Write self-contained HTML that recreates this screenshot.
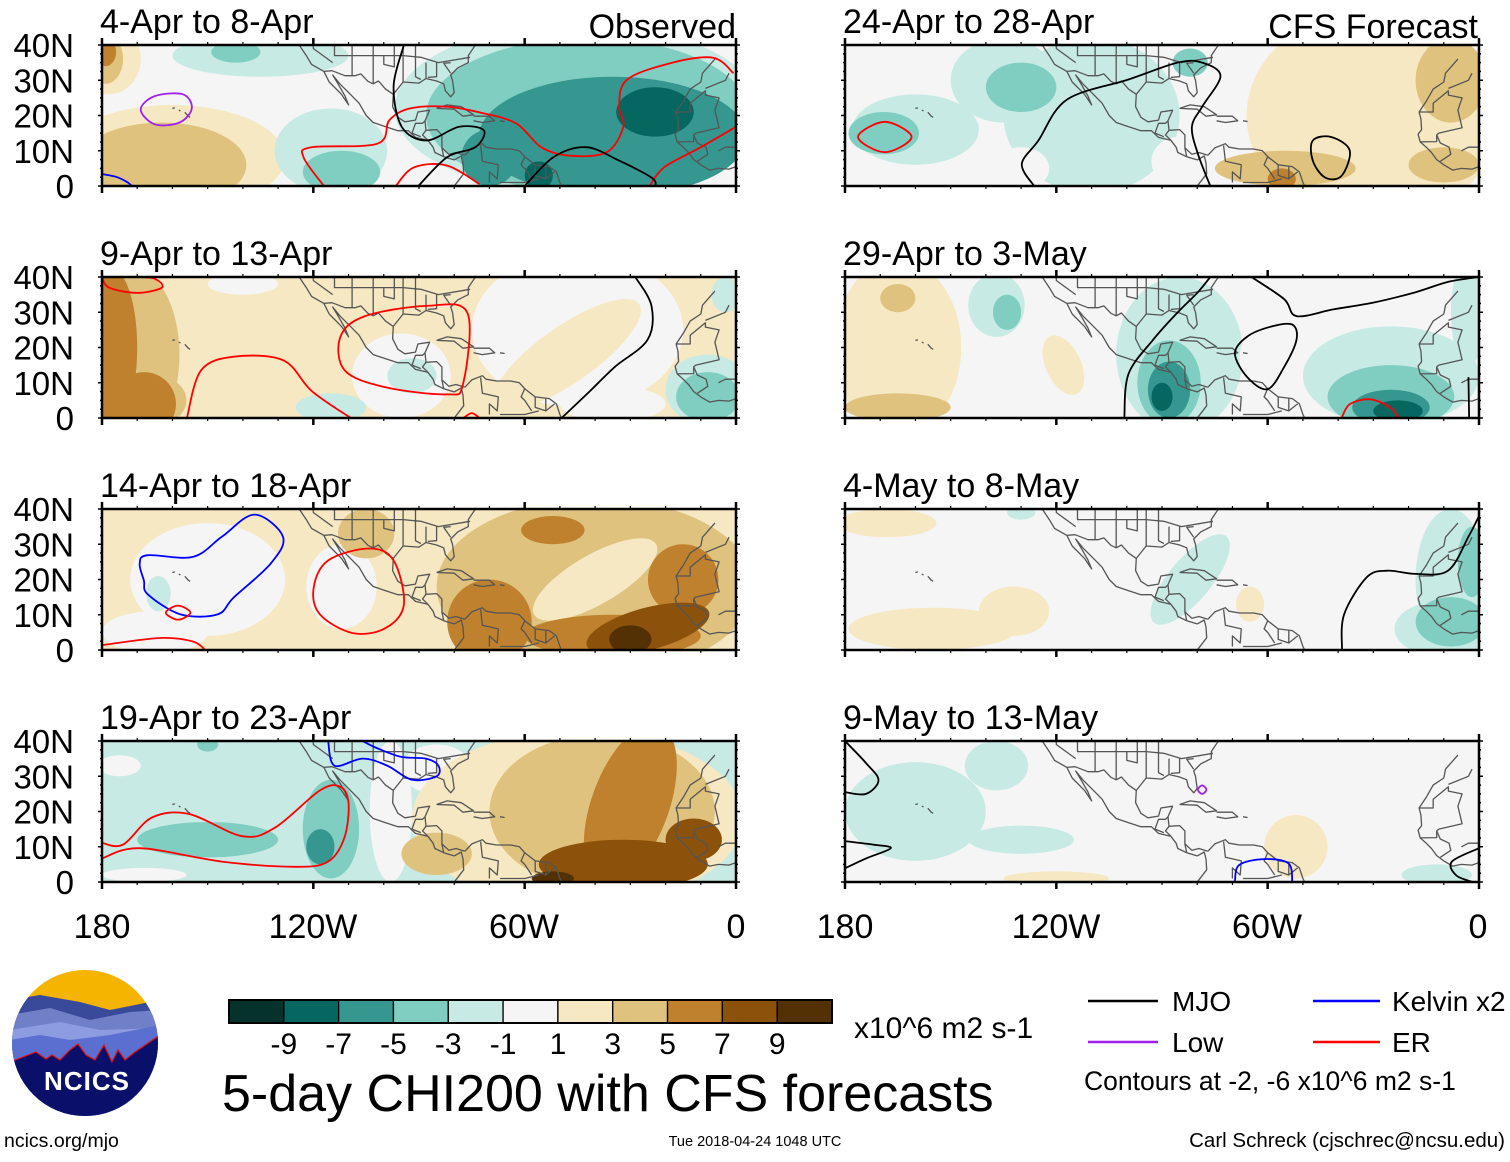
<!DOCTYPE html>
<html><head><meta charset="utf-8"><title>5-day CHI200 with CFS forecasts</title>
<style>
body{margin:0;background:#fff;width:1510px;height:1157px;overflow:hidden;font-family:"Liberation Sans",Arial,sans-serif;}
svg text{font-family:"Liberation Sans",Arial,sans-serif;}
</style></head>
<body>
<svg id="chart" width="1510" height="1157" viewBox="0 0 1510 1157" xmlns="http://www.w3.org/2000/svg">
<defs id="defs"></defs>
<g id="panels"></g>
<g font-size="34" text-anchor="middle">
<text x="102" y="938">180</text><text x="313" y="938">120W</text><text x="524" y="938">60W</text><text x="736" y="938">0</text>
</g>
<g font-size="34" text-anchor="middle">
<text x="845" y="938">180</text><text x="1056" y="938">120W</text><text x="1267" y="938">60W</text><text x="1478" y="938">0</text>
</g>
<text x="736" y="38" font-size="34" text-anchor="end">Observed</text>
<text x="1478" y="38" font-size="34" text-anchor="end">CFS Forecast</text>
<g id="colorbar"></g>
<text x="854" y="1038" font-size="30">x10^6 m2 s-1</text>
<text x="222" y="1111" font-size="52">5-day CHI200 with CFS forecasts</text>
<text x="755" y="1146" font-size="14.5" text-anchor="middle">Tue 2018-04-24 1048 UTC</text>
<text x="4" y="1147" font-size="19.5">ncics.org/mjo</text>
<text x="1505" y="1147" font-size="20.5" text-anchor="end">Carl Schreck (cjschrec@ncsu.edu)</text>
<g font-size="28">
<g><line x1="1088" y1="1001" x2="1158" y2="1001" stroke="#000" stroke-width="2.5"/><text x="1172" y="1011">MJO</text></g>
<g><line x1="1313" y1="1001" x2="1380" y2="1001" stroke="#0000ff" stroke-width="2.5"/><text x="1392" y="1011">Kelvin x2</text></g>
<g><line x1="1088" y1="1042" x2="1158" y2="1042" stroke="#a020f0" stroke-width="2.5"/><text x="1172" y="1052">Low</text></g>
<g><line x1="1313" y1="1042" x2="1380" y2="1042" stroke="#ff0000" stroke-width="2.5"/><text x="1392" y="1052">ER</text></g>
<text x="1084" y="1090" font-size="26.5">Contours at -2, -6 x10^6 m2 s-1</text>
</g>
<g>
<clipPath id="logoclip"><circle cx="85" cy="1043" r="73"/></clipPath>
<g clip-path="url(#logoclip)">
<rect x="10" y="968" width="150" height="150" fill="#f4b400"/>
<path d="M10 1000 L40 995 L80 1002 L110 1010 L160 1000 L160 1120 L10 1120Z" fill="#3a4a9a"/>
<path d="M10 1015 L50 1008 L90 1020 L130 1012 L160 1010 L160 1120 L10 1120Z" fill="#6f7fc8"/>
<path d="M10 1030 L60 1022 L100 1030 L160 1028 L160 1120 L10 1120Z" fill="#8d9be0"/>
<path d="M10 1040 L40 1035 L70 1040 L110 1035 L160 1025 L160 1120 L10 1120Z" fill="#5a6fd0"/>
<path d="M10 1062 L36 1052 L46 1059 L52 1055 L60 1060 L70 1050 L78 1044 L86 1055 L95 1060 L104 1045 L112 1062 L118 1050 L125 1060 L135 1052 L160 1035 L160 1120 L10 1120Z" fill="#0a0f6a" stroke="#e01010" stroke-width="1.2"/>
</g>
<text x="87" y="1090" font-size="26" font-weight="bold" fill="#fff" text-anchor="middle" letter-spacing="1">NCICS</text>
</g>
</svg>
<script>
const levelColors = ["#05332c","#05675f","#35978f","#80cdc1","#c7eae5","#f5f5f5","#f6e8c3","#dfc27d","#bf812d","#8c510a","#543005"];
const levelTicks = ["-9","-7","-5","-3","-1","1","3","5","7","9"];

const panelTitles = ["4-Apr to 8-Apr","9-Apr to 13-Apr","14-Apr to 18-Apr","19-Apr to 23-Apr","24-Apr to 28-Apr","29-Apr to 3-May","4-May to 8-May","9-May to 13-May"];
const panelBg = [5,6,6,4,5,5,5,5];
const latTicks = ["0","10N","20N","30N","40N"];

// blobs: [lon, lat, rxDeg, ryDeg, level, rotation]
const blobs0 = [[-160,8,32,15,6],[-150,8,22,12,6],[-163,6,24,12,7],[-178,36,9,10,6],[-179,36,5,7,7],[-179,38,3,4,8],
 [-135,37,25,6,4],[-142,38,7,3,3],[-115,10,16,12,4],[-112,4,11,6,3],
 [-45,22,52,24,4],[-42,20,46,22,3],[-35,14,38,17,2],[-70,8,8,8,2],[-23,21,11,7,1],[-56,3,4,4,1]];
const blobs1 = [[-172,18,14,25,7],[-168,5,12,8,7],[-177,20,7,22,8],[-168,4,9,9,8],[-140,38,10,3,5],
 [-45,25,30,22,5],[-48,18,25,8,6,-35],[-95,12,14,12,5],[-92,12,7,5,4],[-115,3,10,4,4],[-35,4,15,5,5],
 [-8,8,12,10,4],[-8,6,9,7,3],[-3,35,4,5,4]];
const blobs2 = [[-150,20,22,16,5],[-165,5,15,6,5],[-112,18,10,12,5],[-164,16,3.5,5,4],
 [-105,33,8,7,7],[-40,18,45,25,7],[-40,20,20,7,6,-30],[-70,8,12,12,8],[-52,34,9,4,8],[-15,20,10,10,8],[-35,4,25,6,8],
 [-25,6,18,6,9,-15],[-30,3,6,4,10]];
const blobs3 = [[-175,33,6,3,5],[-168,2,12,2,5],[-150,12,20,5,3],[-115,15,8,14,3],[-150,39,3,2,3],[-118,10,4,5,2],
 [-98,20,6,20,5],[-85,32,10,7,5],[-45,18,47,25,6],[-38,20,32,22,7],[-85,8,10,6,7],[-30,22,11,24,8,20],
 [-32,5,24,7,9],[-12,12,8,6,9],[-52,1,6,2,10],[-29,30,3,2,8]];
const blobs4 = [[-110,20,25,22,4],[-160,16,18,10,4],[-135,30,15,12,4],[-130,28,10,7,3],[-169,15,10,6,3],[-82,35,5,4,3],
 [-130,5,8,6,5],[-85,7,8,7,5],[-30,20,36,30,6],[-8,30,10,12,7],[-55,5,20,5,7],[-10,6,10,5,7],[-56,2,4,3,8]];
const blobs5 = [[-165,20,18,25,6],[-165,34,5,4,7],[-165,3,15,4,7],[-118,15,5,9,6,-25],[-137,32,8,9,4],[-134,30,4,5,3],
 [-85,18,18,22,4],[-88,10,9,12,3],[-88,8,6,8,2],[-90,6,3,4,1],[-25,12,25,14,4],[-3,30,5,15,4],[-25,6,18,9,3],[-25,3,11,5,2],[-23,2,7,3,1],
 [-60,17,8,9,5]];
const blobs6 = [[-168,36,14,4,6],[-155,6,24,6,6],[-132,11,10,7,6],[-65,13,4,5,6],[-82,20,16,6,4,-50],[-130,39,4,2,4],
 [-8,20,10,20,4],[-10,6,14,8,4],[-8,8,10,7,3],[-2,25,4,10,3]];
const blobs7 = [[-160,20,20,14,4],[-137,33,9,7,4],[-130,12,15,4,4],[-120,1,15,2,6],[-52,10,9,9,6],[-12,2,10,3,4]];
const panelBlobs = [blobs0,blobs1,blobs2,blobs3,blobs4,blobs5,blobs6,blobs7];

const contourColors = {mjo:"#000000",kelvin:"#0000ff",low:"#a020f0",er:"#ff0000"};
const contourList = [
 [0,"low",1,[[-169,21.7],[-165,25.5],[-157,26],[-154.5,22],[-158,18],[-165,17.5]]],
 [0,"kelvin",0,[[-180,3.4],[-176,2.6],[-173,1.2],[-171.5,0]]],
 [0,"er",0,[[-117,0],[-122.8,8.2],[-120.5,11],[-101.8,12],[-98.4,18.7],[-92.5,22],[-82,22.5],[-71.6,20.6],[-62.3,17.7],[-55.3,11],[-47.2,8.6],[-36.7,9.6],[-32,16.8],[-33.2,22.5],[-30.9,30.2],[-18,35],[-6.5,36.4],[-0.7,32]]],
 [0,"er",0,[[-96.6,0],[-91.4,5.3],[-82,5.8],[-72.8,0.5]]],
 [0,"er",0,[[-24.5,0],[-20.4,5.3],[-10,11],[0,16.8]]],
 [0,"mjo",0,[[-94.3,40],[-97.2,28.3],[-94.9,16.8],[-87.9,12.9],[-78.6,16.8],[-71.6,15.8],[-74,11],[-82,8.2],[-90.2,0]]],
 [0,"mjo",0,[[-60,0],[-51.8,8.2],[-42.5,11],[-33.2,7.2],[-24,2.4],[-22.8,0]]],
 [1,"er",0,[[-180,40],[-178,37],[-170,35.5],[-163,37],[-165,39.5],[-170,40]]],
 [1,"er",1,[[-112.3,23.1],[-105.3,28.9],[-87.9,31.8],[-76.3,29.9],[-77.5,9.6],[-82,6.7],[-99.5,8.7],[-111.1,13.5]]],
 [1,"er",0,[[-155.9,0],[-151.9,13.5],[-142.6,17.4],[-128.6,16.4],[-120.5,7.7],[-109.4,0]]],
 [1,"er",0,[[-77.4,0],[-75,1.4],[-72.8,0]]],
 [1,"mjo",0,[[-28.6,40],[-24,31.8],[-25.1,22.2],[-34.4,14.5],[-41.4,7.7],[-49.5,0]]],
 [2,"kelvin",1,[[-169.3,24.5],[-167,26.9],[-154.2,26.4],[-146,32.1],[-136.7,38.4],[-128.6,32.1],[-132.1,24.5],[-142.6,14.9],[-147.2,10.1],[-157.7,10.1],[-167,15.8],[-168.1,19.7]]],
 [2,"er",1,[[-161.9,10.6],[-158.4,12.6],[-154.9,10.6],[-158.4,8.6]]],
 [2,"er",1,[[-119.9,17.7],[-115.8,25.4],[-104.2,28.8],[-97.2,25.4],[-94.3,12.9],[-99.5,6.2],[-108.8,4.8],[-118.1,10.1]]],
 [2,"er",0,[[-180,1.4],[-163.5,3.4],[-154.2,2.4],[-150.7,0]]],
 [3,"er",0,[[-180,11.1],[-174,10.6],[-165.8,18.3],[-155.3,19.3],[-140.2,13],[-130.9,15.4],[-118.1,26],[-112.3,27],[-110,22.2],[-111.2,12.5],[-115.8,5.8],[-125.1,4.3],[-146,5.8],[-169.3,9.6],[-180,6.7]]],
 [3,"kelvin",0,[[-115.8,40],[-114,33],[-106,35],[-99,33],[-92,29],[-85,30],[-84.5,33],[-88,35],[-95,35.5],[-102,38],[-106,40]]],
 [4,"er",1,[[-176.3,13.9],[-168.7,18.2],[-161.1,13.9],[-168.7,9.6]]],
 [4,"mjo",0,[[-126.3,0],[-129.8,6.2],[-125.1,12.9],[-117,24.5],[-99.5,30.2],[-85.6,35],[-78.6,35],[-73.4,31.2],[-78.6,22.5],[-81.5,16.8],[-79.8,9.1],[-76.3,0]]],
 [4,"mjo",1,[[-47.2,12.9],[-42,13.9],[-36.7,10.1],[-39,2.9],[-43.7,2.4],[-47.2,7.2]]],
 [5,"mjo",0,[[-100.7,0],[-99.5,12.5],[-92.5,22.2],[-85.6,29.9],[-79.8,35.7],[-76.3,40]]],
 [5,"mjo",0,[[-64.6,40],[-55.3,33.7],[-51.8,28.9],[-41.4,30.8],[-29.7,32.8],[-18,35.7],[-8.8,38.6],[0,40]]],
 [5,"mjo",1,[[-53,26.5],[-51.8,22.2],[-55.3,14.5],[-60,8.2],[-65.8,11.6],[-69.3,18.3],[-65.8,23.1],[-58.8,26]]],
 [5,"mjo",0,[[-3,11.6],[-2.8,0]]],
 [5,"er",0,[[-39,0],[-36.7,3.9],[-30.9,5.3],[-25.1,2.9],[-22.8,0]]],
 [6,"mjo",0,[[-38.9,0],[-38.3,10.1],[-31.9,20.6],[-26.1,22.5],[-18,21.6],[-8.8,22.5],[-3,32.1],[0,38]]],
 [7,"mjo",0,[[-180,40],[-174,33.7],[-170.5,28.9],[-174,25],[-180,25.5]]],
 [7,"mjo",0,[[-180,3.9],[-174,6.7],[-167,9.6],[-172,10.6],[-180,11.6]]],
 [7,"low",1,[[-79.8,26.2],[-78.6,27.4],[-77.4,26.2],[-78.6,25]]],
 [7,"kelvin",0,[[-69.3,0],[-68.1,4.8],[-61.1,6.5],[-54.1,5.3],[-53,0]]],
 [7,"mjo",0,[[0,9.6],[-7.7,5.8],[-6.5,1.9],[-1.9,0]]]
];

const coastLines = [
 [[-124,40],[-122,37],[-120.5,34.5],[-117,32.5],[-115.5,29.5],[-112,26],[-110,23],[-111,25.5],[-113,29],[-114.5,31.5],[-112.5,29],[-110,26.5],[-107,23.5],[-105,20],[-103,18],[-100,17],[-96,15.7],[-93,15.7],[-91,13.8],[-87.5,13],[-86,11],[-85.5,9.5],[-83,8.3],[-80,7.4],[-78,8.5],[-77.5,6.5],[-77.3,3.5],[-78.8,1.5],[-80,0]],
 [[-77,8.7],[-79.5,9.5],[-81.5,9],[-83.5,10.8],[-83.5,14.5],[-85,16],[-88,15.8],[-88.3,18.5],[-87,21.5],[-90.3,21],[-91,18.7],[-94,18.2],[-96,19.5],[-97.5,22.5],[-97.3,26],[-94.5,29.5],[-90,29.2],[-88,30.5],[-85,29.8],[-83,29],[-82.5,27],[-81,25.3],[-80,26.5],[-80.5,30],[-81,31.5],[-79,33.5],[-76,35],[-76,37],[-75,38.5],[-74,40]],
 [[-77,8.7],[-75,10.8],[-72,12],[-71,11],[-68,10.5],[-64,10.5],[-61.5,10],[-60,8.3],[-57,6],[-53,5.5],[-51,4],[-50,1],[-49.5,0]],
 [[-85,22],[-82,23],[-78,22.5],[-74.5,20.2],[-77.5,19.8],[-80,21.8],[-85,22]],
 [[-74.5,19.8],[-70,19.8],[-68.5,18.5],[-72,18],[-74.5,18.5]],
 [[-67,18.5],[-65.7,18.3]],
 [[-6,36],[-9.5,32],[-10,29.5],[-13,27.5],[-15,24],[-17,21],[-16.5,19],[-16.3,16],[-17.3,14.7],[-16.7,12.5],[-15,11],[-13.5,9.5],[-12,7.5],[-10,6],[-7.5,4.5],[-5,5],[-2,4.8],[0,5.5]],
 [[-160,22],[-159.3,22.2]],[[-158.2,21.5],[-157.7,21.3]],[[-156.5,20.9],[-155.5,19.8],[-155,19.5]]
];
const borderLines = [
 [[-117,32.5],[-114.7,32.7],[-111,31.3],[-108.2,31.3],[-106.5,31.8],[-104.5,29.7],[-103,29],[-101.5,29.8],[-99.5,27.5],[-97.3,26]],
 [[-120,42],[-120,39],[-114.5,35]],[[-114,42],[-114,37],[-109,37],[-103,37],[-94.5,37],[-89.5,36.5],[-84.5,35],[-75.5,36.5]],
 [[-109,42],[-109,31.3]],[[-103,42],[-103,29]],[[-94.5,40],[-94.5,29.5]],[[-91,40],[-91,31],[-89.5,30.2]],[[-88,35],[-88,30.5]],[[-85,35],[-85,31],[-87.5,30.8]],
 [[-97,40],[-97,33.8],[-100,34.5],[-100,37]],[[-81,35],[-83,34.8],[-81,32]],
 [[-17,21],[-13,21],[-13,23.5],[-8.7,27],[-8.7,25.8],[-4.8,25],[-6,21.5],[-4.8,16.5],[-11.4,15],[-12,14.5],[-12,12.6],[-16.7,12.5]],
 [[-8.7,27.7],[-3,30],[-2,32]],[[-12,14.5],[-11,12.2],[-8.5,11],[-8,9],[-11,7]],[[-5,10],[-3,11],[0,11]],
 [[-83,8.3],[-83.5,10.8]],[[-87.5,13],[-89,14.5],[-88,15.8]],[[-89.5,14],[-92,15],[-91,17.8],[-89,17.8],[-88.3,18.5]],
 [[-72.5,11.5],[-72,7],[-67.5,6],[-67.8,2],[-70,4],[-70,1]],[[-60,8.3],[-61,6],[-60,5],[-58,2]],[[-57,6],[-57,3],[-54,2]],[[-54,5.5],[-54,2],[-51.5,4]],[[-67,1],[-60,1],[-56,2]]
];

const colX0 = [102,845], rowY0 = [45,277,509,741], PW = 634, PH = 141;
const NS = "http://www.w3.org/2000/svg";
function mk(tag, attrs, parent){ const e=document.createElementNS(NS,tag); for(const k in attrs) e.setAttribute(k,attrs[k]); if(parent) parent.appendChild(e); return e; }
function xScale(lon, x0){ return x0 + (lon+180)/180*PW; }
function yScale(lat, y0){ return y0 + PH - lat/40*PH; }
function smoothPath(pts, closed){
  const n=pts.length; if(n<3){ return "M"+pts.map(p=>p.join(",")).join(" L")+(closed?"Z":""); }
  const get=i=> closed? pts[(i+n)%n] : pts[Math.max(0,Math.min(n-1,i))];
  let d="M"+pts[0][0].toFixed(1)+","+pts[0][1].toFixed(1);
  const segs = closed? n : n-1;
  for(let i=0;i<segs;i++){
    const p0=get(i-1),p1=get(i),p2=get(i+1),p3=get(i+2);
    const c1=[p1[0]+(p2[0]-p0[0])/6, p1[1]+(p2[1]-p0[1])/6];
    const c2=[p2[0]-(p3[0]-p1[0])/6, p2[1]-(p3[1]-p1[1])/6];
    d+=" C"+c1[0].toFixed(1)+","+c1[1].toFixed(1)+" "+c2[0].toFixed(1)+","+c2[1].toFixed(1)+" "+p2[0].toFixed(1)+","+p2[1].toFixed(1);
  }
  return d+(closed?"Z":"");
}

const root = document.getElementById("panels");
const defs = document.getElementById("defs");
for(let p=0;p<8;p++){
  const x0 = colX0[p<4?0:1], y0 = rowY0[p%4];
  const g = mk("g",{},root);
  
  
  const cp = mk("clipPath",{id:"clip"+p},defs);
  mk("rect",{x:x0,y:y0,width:PW,height:PH},cp);
  const title = mk("text",{x:x0-2,y:y0-12,"font-size":"34"},g);
  title.textContent = panelTitles[p];
  
  
  const field = mk("g",{"clip-path":"url(#clip"+p+")"},g);
  
  
  mk("rect",{x:x0,y:y0,width:PW,height:PH,fill:levelColors[panelBg[p]]},field);
  panelBlobs[p].forEach(b=>{
    const cx=xScale(b[0],x0), cy=yScale(b[1],y0);
    const e = mk("ellipse",{cx:cx,cy:cy,rx:b[2]*PW/180,ry:b[3]*PH/40,fill:levelColors[b[4]]},field);
    if(b[5]) e.setAttribute("transform","rotate("+b[5]+" "+cx+" "+cy+")");
    
    
  });
  const cg = mk("g",{fill:"none",stroke:"#555","stroke-width":"1.3","stroke-linejoin":"round"},field);
  
  
  coastLines.concat(borderLines).forEach(line=>{
    mk("polyline",{points:line.map(q=>xScale(q[0],x0).toFixed(1)+","+yScale(q[1],y0).toFixed(1)).join(" ")},cg);
  });
  contourList.filter(c=>c[0]===p).forEach(c=>{
    const pts = c[3].map(q=>[xScale(q[0],x0),yScale(q[1],y0)]);
    const path = mk("path",{d:smoothPath(pts,c[2]===1),fill:"none",stroke:contourColors[c[1]],"stroke-width":"1.8"},field);
    
    
  });
  const fr = mk("g",{stroke:"#000"},g);
  
  
  mk("rect",{x:x0,y:y0,width:PW,height:PH,fill:"none","stroke-width":"2.5"},fr);
  for(let lon=-180;lon<=0;lon+=10){
    const x=xScale(lon,x0), major=(lon%60===0);
    mk("line",{x1:x,y1:y0+PH,x2:x,y2:y0+PH+(major?7:3),"stroke-width":major?2.5:1.2},fr);
    mk("line",{x1:x,y1:y0,x2:x,y2:y0-(major?7:3),"stroke-width":major?2.5:1.2},fr);
  }
  for(let lat=0;lat<=40;lat+=2.5){
    const y=yScale(lat,y0), major=(lat%10===0);
    mk("line",{x1:x0,y1:y,x2:x0-(major?4:2),y2:y,"stroke-width":1.5},fr);
    mk("line",{x1:x0+PW,y1:y,x2:x0+PW+(major?4:2),y2:y,"stroke-width":1.5},fr);
  }
  if(p<4){
    latTicks.forEach((t,i)=>{
      const tx = mk("text",{x:74,y:yScale(i*10,y0)+12,"font-size":"33","text-anchor":"end"},g);
      tx.textContent=t;
      
      
    });
  }
}

const cb = document.getElementById("colorbar");
const cbX=229, cbY=1000, cbW=603, cbH=23, bw=cbW/levelColors.length;
levelColors.forEach((c,i)=>{
  const r = mk("rect",{x:cbX+i*bw,y:cbY,width:bw,height:cbH,fill:c,stroke:"#000","stroke-width":"1.3"},cb);
  
  
});
mk("rect",{x:cbX,y:cbY,width:cbW,height:cbH,fill:"none",stroke:"#000","stroke-width":"2"},cb);
levelTicks.forEach((t,i)=>{
  const tx = mk("text",{x:cbX+(i+1)*bw,y:1054,"font-size":"30","text-anchor":"middle"},cb);
  tx.textContent=t;
  
  
});
</script>
</body></html>
